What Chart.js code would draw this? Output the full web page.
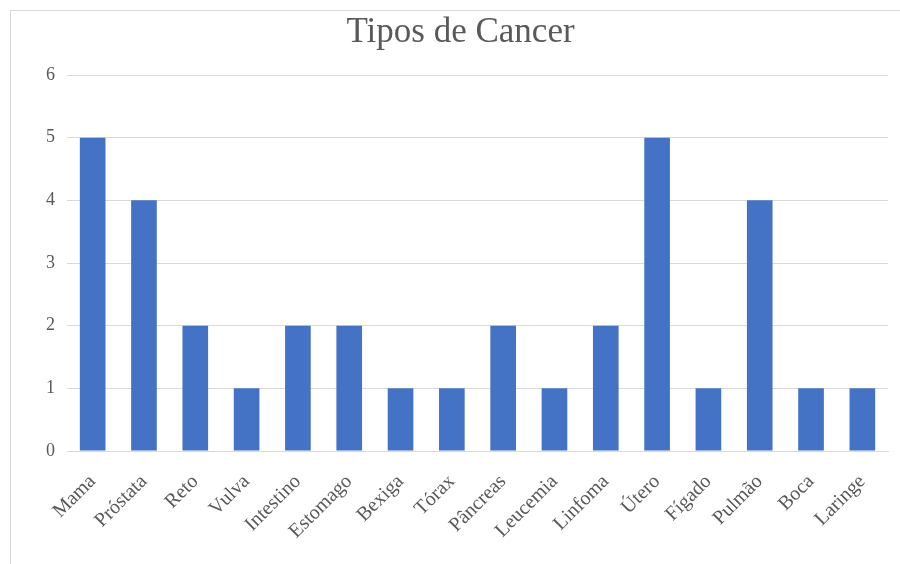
<!DOCTYPE html>
<html>
<head>
<meta charset="utf-8">
<script src="https://cdn.jsdelivr.net/npm/chart.js@4/dist/chart.umd.min.js"></script>
<style>
    html, body { margin: 0; padding: 0; background: #ffffff; overflow: hidden; }
    #frame {
        position: absolute; left: 10px; top: 10px;
        width: 1000px; height: 700px;
        border: 1px solid #d9d9d9;
    }
    #wrap { position: absolute; left: 0; top: 0; width: 900px; height: 564px; }
</style>
</head>
<body>
<div id="frame"></div>
<div id="wrap"><canvas id="chart"></canvas></div>
<script>
// Data
const categories = ['Mama', 'Próstata', 'Reto', 'Vulva', 'Intestino', 'Estomago', 'Bexiga', 'Tórax',
    'Pâncreas', 'Leucemia', 'Linfoma', 'Útero', 'Fígado', 'Pulmão', 'Boca', 'Laringe'];
const counts = [5, 4, 2, 1, 2, 2, 1, 1, 2, 1, 2, 5, 1, 4, 1, 1];
const yTicks = [0, 1, 2, 3, 4, 5, 6];

const textColor = '#595959';
const fontFamily = '"Liberation Serif", "Times New Roman", serif';

const ctx = document.getElementById('chart').getContext('2d');
new Chart(ctx, {
    type: 'bar',
    data: {
        labels: categories,
        datasets: [{
            label: 'Tipos de Cancer',
            data: counts,
            backgroundColor: '#4472C4',
            borderWidth: 0,
            categoryPercentage: 1.0,
            barPercentage: 0.5
        }]
    },
    options: {
        responsive: true,
        maintainAspectRatio: false,
        animation: false,
        layout: { padding: { left: 33, right: 12, top: 0, bottom: 0 } },
        plugins: {
            legend: { display: false },
            tooltip: { enabled: false },
            title: {
                display: true,
                text: 'Tipos de Cancer',
                color: textColor,
                font: { family: fontFamily, size: 35, weight: 'normal' },
                padding: { top: 12, bottom: 21 }
            }
        },
        scales: {
            y: {
                min: 0,
                max: 6,
                afterFit: scale => { scale.width = 34; },
                afterBuildTicks: scale => { scale.ticks = yTicks.map(v => ({ value: v })); },
                border: { display: false },
                grid: { color: '#d9d9d9', lineWidth: 1, drawTicks: false },
                ticks: {
                    color: textColor,
                    padding: 12,
                    font: { family: fontFamily, size: 18 }
                }
            },
            x: {
                afterFit: scale => { scale.height = 113; },
                border: { color: '#d9d9d9' },
                grid: { display: false },
                ticks: {
                    color: textColor,
                    minRotation: 45,
                    maxRotation: 45,
                    autoSkip: false,
                    padding: 11,
                    font: { family: fontFamily, size: 20 }
                }
            }
        }
    }
});
</script>
</body>
</html>
